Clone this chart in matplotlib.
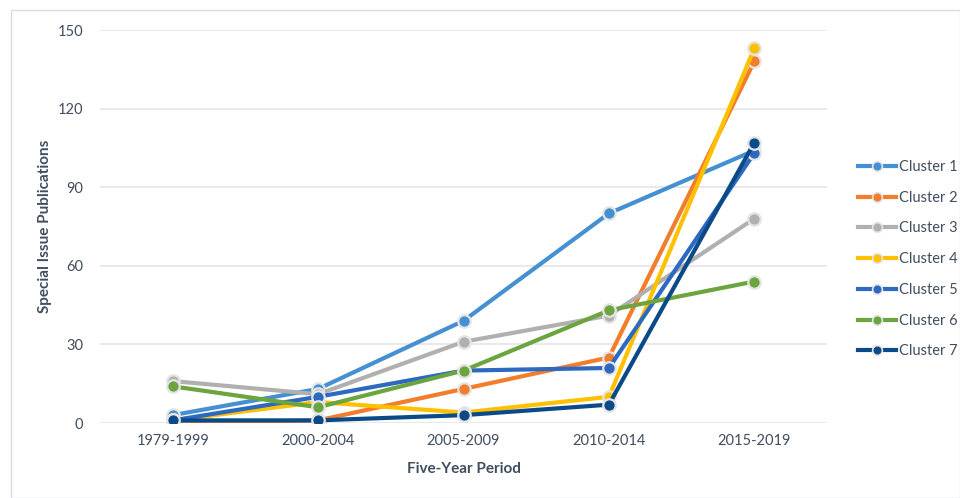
import matplotlib
matplotlib.use("Agg")
import matplotlib.pyplot as plt
from matplotlib.patches import Rectangle
from matplotlib.lines import Line2D

plt.rcParams['font.family'] = ['Lato', 'DejaVu Sans']

periods = ["1979-1999", "2000-2004", "2005-2009", "2010-2014", "2015-2019"]
cluster_names = ["Cluster 1", "Cluster 2", "Cluster 3", "Cluster 4", "Cluster 5", "Cluster 6", "Cluster 7"]
cluster1 = [3, 13, 39, 80, 104]
cluster2 = [0, 1, 13, 25, 138]
cluster3 = [16, 11, 31, 41, 78]
cluster4 = [1, 8, 4, 10, 143]
cluster5 = [1, 10, 20, 21, 103]
cluster6 = [14, 6, 20, 43, 54]
cluster7 = [1, 1, 3, 7, 107]
series = [cluster1, cluster2, cluster3, cluster4, cluster5, cluster6, cluster7]
colors = ['#4490D3', '#F27D2B', '#B0B0B0', '#FFC000', '#2D69C1', '#6CA43F', '#0B4A89']
yticks = [0, 30, 60, 90, 120, 150]

text_color = '#404E60'

fig = plt.figure(figsize=(9.6, 4.98), dpi=100)
W, H = 960, 498
ax = fig.add_axes([100 / W, 1 - 423 / H, (827 - 100) / W, (423 - 30) / H])

x = list(range(len(periods)))
for name, vals, c in zip(cluster_names, series, colors):
    ax.plot(x, vals, color=c, lw=3.0, marker='o', markersize=9,
            markerfacecolor=c, markeredgecolor='#E4E4E4', markeredgewidth=1.6,
            label=name, solid_capstyle='round', zorder=3)

ax.set_xlim(-0.5, len(periods) - 0.5)
ax.set_ylim(0, 150)
ax.set_yticks(yticks)
ax.set_xticks(x)
ax.set_xticklabels(periods)
ax.tick_params(axis='both', length=0, labelsize=10.5, colors=text_color)
ax.tick_params(axis='y', pad=12)
ax.tick_params(axis='x', pad=8)
for s in ax.spines.values():
    s.set_visible(False)
ax.grid(axis='y', color='#E3E5EA', lw=1.2, zorder=0)
ax.set_axisbelow(True)

ax.set_ylabel("Special Issue Publications", fontsize=11, fontweight='bold', color=text_color, labelpad=4)
ax.set_xlabel("Five-Year Period", fontsize=11, fontweight='bold', color=text_color, labelpad=10)

handles = [Line2D([0], [0], color=c, lw=3.0, marker='o', markersize=7,
                  markerfacecolor=c, markeredgecolor='#E4E4E4', markeredgewidth=1.2)
           for c in colors]
leg = fig.legend(handles, cluster_names, loc='upper left',
                 bbox_to_anchor=(852 / W, 1 - 154 / H), frameon=False,
                 fontsize=10.5, labelcolor=text_color, handlelength=2.6,
                 handletextpad=0.2, labelspacing=1.15, borderaxespad=0)

fig.patches.append(Rectangle((11 / W, 0.5 / H), (W - 11) / W, (H - 10.5) / H,
                             transform=fig.transFigure, fill=False,
                             edgecolor='#D9DCE1', lw=1.0))

fig.savefig("out.png", dpi=100, facecolor='white')
